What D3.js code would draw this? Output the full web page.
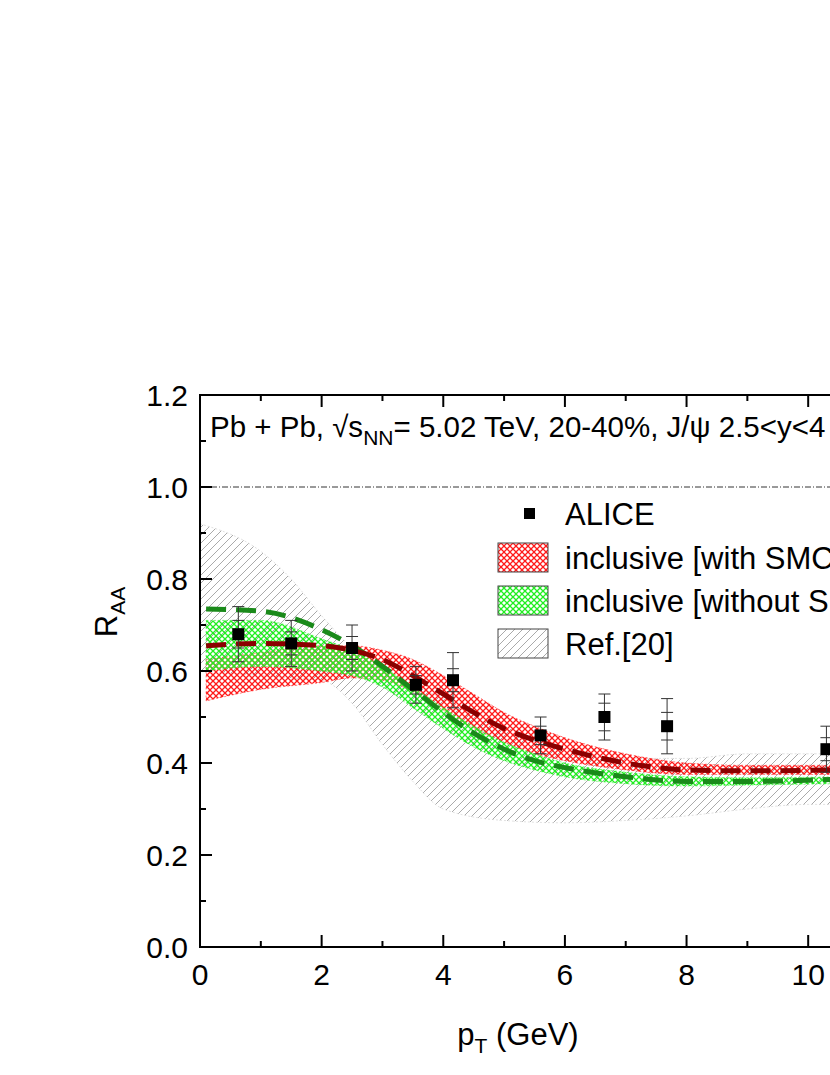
<!DOCTYPE html><html><head><meta charset="utf-8"><script src="https://cdn.jsdelivr.net/npm/d3@7"></script>
<style>body{margin:0;background:#fff}text{font-family:Arial,"Liberation Sans",sans-serif}</style></head><body>
<svg id="c" width="830" height="1075"></svg>
<script>
const aliceX=[0.63,1.5,2.5,3.55,4.16,5.6,6.65,7.68,10.3];
const aliceY=[0.68,0.66,0.65,0.57,0.58,0.46,0.50,0.48,0.43];
const aliceSys=[0.06,0.05,0.05,0.04,0.06,0.04,0.05,0.06,0.05];
const aliceStat=[0.03,0.025,0.025,0.02,0.025,0.02,0.03,0.03,0.025];
const bandX=[0.1,1,2,2.5,3,3.5,4,4.5,5,5.5,6,7,8,9,10.5];
const redLo=[0.535,0.56,0.575,0.585,0.58,0.555,0.515,0.475,0.445,0.42,0.405,0.385,0.375,0.375,0.375];
const redHi=[0.625,0.64,0.655,0.655,0.645,0.625,0.59,0.55,0.51,0.48,0.455,0.42,0.40,0.395,0.395];
const redMid=[0.655,0.66,0.655,0.645,0.625,0.59,0.55,0.51,0.475,0.45,0.43,0.40,0.385,0.383,0.385];
const grnLo=[0.60,0.61,0.60,0.59,0.565,0.52,0.475,0.435,0.405,0.385,0.37,0.355,0.35,0.352,0.355];
const grnHi=[0.71,0.71,0.67,0.645,0.61,0.565,0.52,0.48,0.445,0.42,0.40,0.38,0.37,0.368,0.37];
const grnMid=[0.735,0.73,0.69,0.655,0.61,0.56,0.51,0.465,0.43,0.405,0.39,0.37,0.36,0.36,0.365];
const refX=[0,1,1.5,2,2.5,3,3.5,4,5,6,7,8,9,10,10.5];
const refLo=[0.60,0.59,0.585,0.58,0.53,0.44,0.36,0.30,0.275,0.27,0.275,0.285,0.30,0.31,0.31];
const refHi=[0.92,0.86,0.80,0.72,0.65,0.60,0.57,0.54,0.48,0.43,0.41,0.41,0.42,0.42,0.42];
const xTicks=[0,2,4,6,8,10];
const yTicks=[0,0.2,0.4,0.6,0.8,1.0,1.2];

const svg=d3.select("#c");
const x=d3.scaleLinear().domain([0,11]).range([200,869]);
const y=d3.scaleLinear().domain([0,1.2]).range([947,395]);
const defs=svg.append("defs");
function hatch(id,col,cross,size,w){
  const p=defs.append("pattern").attr("id",id).attr("patternUnits","userSpaceOnUse").attr("width",size).attr("height",size);
  p.append("path").attr("d",`M0,${size} L${size},0 M-1,1 L1,-1 M${size-1},${size+1} L${size+1},${size-1}`).attr("stroke",col).attr("stroke-width",w);
  if(cross)p.append("path").attr("d",`M0,0 L${size},${size} M-1,${size-1} L1,${size+1} M${size-1},-1 L${size+1},1`).attr("stroke",col).attr("stroke-width",w);
}
hatch("pr","#ff1a1a",true,6,1.3);hatch("pg","#22ee22",true,6,1.3);hatch("pk","#aaa",false,8,1);
svg.append("clipPath").attr("id","cl").append("rect").attr("x",200).attr("y",395).attr("width",700).attr("height",552);
const g=svg.append("g").attr("clip-path","url(#cl)");
function band(xs,lo,hi,fill,stroke){
  const a=d3.area().x((d,i)=>x(xs[i])).y0((d,i)=>y(lo[i])).y1((d,i)=>y(hi[i])).curve(d3.curveMonotoneX);
  g.append("path").attr("d",a(xs)).attr("fill",`url(#${fill})`).attr("stroke",stroke).attr("stroke-width",0.6).attr("stroke-dasharray","2,2");
}
band(refX,refLo,refHi,"pk","#ccc");
band(bandX,redLo,redHi,"pr","#ff3333");
band(bandX,grnLo,grnHi,"pg","#33ee33");
const ln=d3.line().x((d,i)=>x(bandX[i])).y(d=>y(d)).curve(d3.curveMonotoneX);
g.append("path").attr("d",ln(grnMid)).attr("fill","none").attr("stroke","#1a8a1a").attr("stroke-width",5).attr("stroke-dasharray","20,10");
g.append("path").attr("d",ln(redMid)).attr("fill","none").attr("stroke","#8b0000").attr("stroke-width",5).attr("stroke-dasharray","20,10");
g.append("line").attr("x1",200).attr("x2",900).attr("y1",y(1)).attr("y2",y(1)).attr("stroke","#000").attr("stroke-width",0.8).attr("stroke-dasharray","6,2,1,2");
aliceX.forEach((v,i)=>{
  const cx=x(v),cy=y(aliceY[i]);
  g.append("line").attr("x1",cx).attr("x2",cx).attr("y1",y(aliceY[i]+aliceSys[i])).attr("y2",y(aliceY[i]-aliceSys[i])).attr("stroke","#333").attr("stroke-width",1);
  [aliceSys[i],-aliceSys[i],aliceStat[i],-aliceStat[i]].forEach(e=>g.append("line").attr("x1",cx-6).attr("x2",cx+6).attr("y1",y(aliceY[i]+e)).attr("y2",y(aliceY[i]+e)).attr("stroke","#333").attr("stroke-width",1));
  g.append("rect").attr("x",cx-6).attr("y",cy-6).attr("width",12).attr("height",12).attr("fill","#000");
});
svg.append("rect").attr("x",200).attr("y",395).attr("width",700).attr("height",552).attr("fill","none").attr("stroke","#000").attr("stroke-width",2);
const ax=svg.append("g");
d3.range(0,11.01,1).forEach(t=>{const L=t%2==0?12:6;
  ax.append("line").attr("x1",x(t)).attr("x2",x(t)).attr("y1",947).attr("y2",947-L).attr("stroke","#000").attr("stroke-width",2);
  ax.append("line").attr("x1",x(t)).attr("x2",x(t)).attr("y1",395).attr("y2",395+L).attr("stroke","#000").attr("stroke-width",2);});
d3.range(0,1.201,0.1).forEach(t=>{const L=Math.round(t*10)%2==0?12:6;
  ax.append("line").attr("x1",200).attr("x2",200+L).attr("y1",y(t)).attr("y2",y(t)).attr("stroke","#000").attr("stroke-width",2);});
xTicks.forEach(t=>ax.append("text").attr("x",x(t)).attr("y",985).attr("text-anchor","middle").attr("font-size",30).text(t));
yTicks.forEach(t=>ax.append("text").attr("x",188).attr("y",y(t)+11).attr("text-anchor","end").attr("font-size",30).text(t.toFixed(1)));
const xl=svg.append("text").attr("x",518).attr("y",1045).attr("text-anchor","middle").attr("font-size",31);
xl.append("tspan").text("p");xl.append("tspan").attr("font-size",21).attr("dy",8).text("T");xl.append("tspan").attr("dy",-8).text(" (GeV)");
const yl=svg.append("text").attr("transform","translate(117,612) rotate(-90)").attr("text-anchor","middle").attr("font-size",31);
yl.append("tspan").text("R");yl.append("tspan").attr("font-size",21).attr("dy",8).text("AA");
const h=svg.append("text").attr("x",210).attr("y",437).attr("font-size",29.5);
h.append("tspan").text("Pb + Pb, √s");h.append("tspan").attr("font-size",21).attr("dy",8).text("NN");h.append("tspan").attr("dy",-8).text("= 5.02 TeV, 20-40%, J/ψ 2.5<y<4");
svg.append("rect").attr("x",524).attr("y",508).attr("width",11).attr("height",11).attr("fill","#000");
svg.append("text").attr("x",565).attr("y",525).attr("font-size",31).text("ALICE");
[["pr","inclusive [with SMC]",543],["pg","inclusive [without SMC]",586],["pk","Ref.[20]",629]].forEach(([p,t,yy])=>{
  svg.append("rect").attr("x",498).attr("y",yy).attr("width",50).attr("height",29).attr("fill",`url(#${p})`).attr("stroke","#444").attr("stroke-width",1);
  svg.append("text").attr("x",565).attr("y",yy+26).attr("font-size",31).text(t);
});
</script></body></html>
